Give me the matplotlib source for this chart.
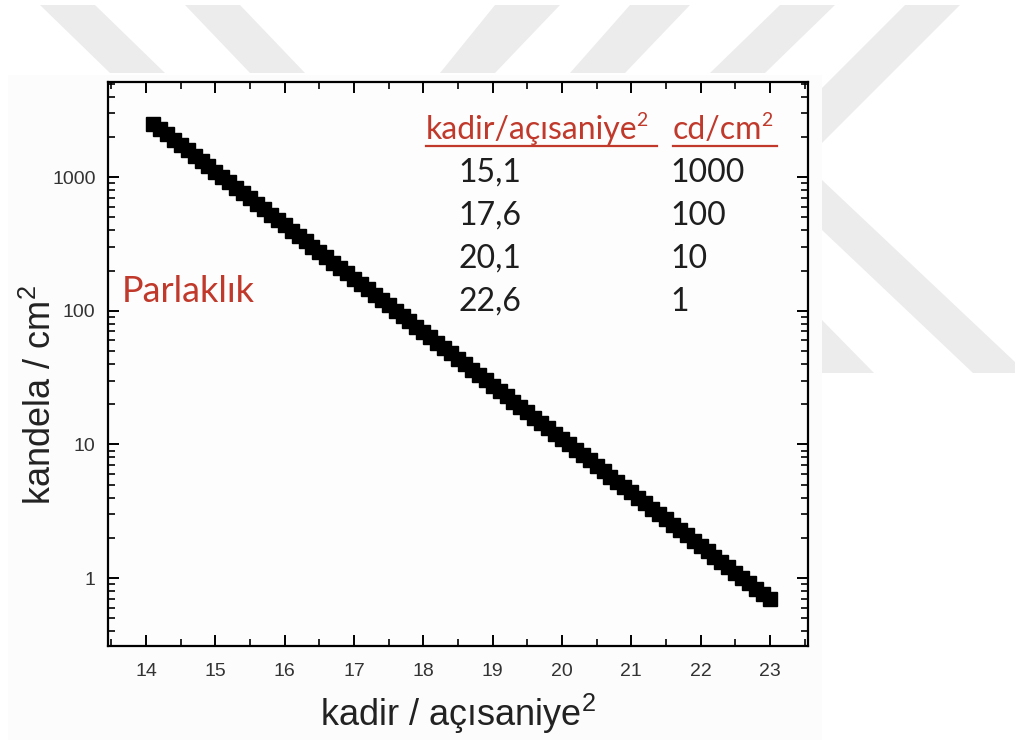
import matplotlib
matplotlib.use("Agg")
import matplotlib.pyplot as plt
from matplotlib.patches import Polygon, Rectangle
from matplotlib.lines import Line2D
from matplotlib.ticker import MultipleLocator, LogLocator, FuncFormatter, NullFormatter

# ---- data ----
kadir = [14.1, 14.2, 14.3, 14.4, 14.5, 14.6, 14.7, 14.8, 14.9, 15.0,
         15.1, 15.2, 15.3, 15.4, 15.5, 15.6, 15.7, 15.8, 15.9, 16.0,
         16.1, 16.2, 16.3, 16.4, 16.5, 16.6, 16.7, 16.8, 16.9, 17.0,
         17.1, 17.2, 17.3, 17.4, 17.5, 17.6, 17.7, 17.8, 17.9, 18.0,
         18.1, 18.2, 18.3, 18.4, 18.5, 18.6, 18.7, 18.8, 18.9, 19.0,
         19.1, 19.2, 19.3, 19.4, 19.5, 19.6, 19.7, 19.8, 19.9, 20.0,
         20.1, 20.2, 20.3, 20.4, 20.5, 20.6, 20.7, 20.8, 20.9, 21.0,
         21.1, 21.2, 21.3, 21.4, 21.5, 21.6, 21.7, 21.8, 21.9, 22.0,
         22.1, 22.2, 22.3, 22.4, 22.5, 22.6, 22.7, 22.8, 22.9, 23.0]
kandela = [2512, 2291, 2089, 1905, 1738, 1585, 1445, 1318, 1202, 1096,
           1000, 912, 832, 759, 692, 631, 575, 525, 479, 437,
           398, 363, 331, 302, 275, 251, 229, 209, 191, 174,
           158.5, 144.5, 131.8, 120.2, 109.6, 100, 91.2, 83.2, 75.9, 69.2,
           63.1, 57.5, 52.5, 47.9, 43.7, 39.8, 36.3, 33.1, 30.2, 27.5,
           25.1, 22.9, 20.9, 19.05, 17.4, 15.85, 14.45, 13.18, 12.02, 10.96,
           10.0, 9.12, 8.32, 7.59, 6.92, 6.31, 5.75, 5.25, 4.79, 4.37,
           3.98, 3.63, 3.31, 3.02, 2.75, 2.51, 2.29, 2.09, 1.905, 1.74,
           1.585, 1.445, 1.318, 1.202, 1.096, 1.0, 0.912, 0.832, 0.759, 0.692]

table_header = ["kadir/açısaniye", "cd/cm"]
table_col1 = ["15,1", "17,6", "20,1", "22,6"]
table_col2 = ["1000", "100", "10", "1"]
x_ticks = [14, 15, 16, 17, 18, 19, 20, 21, 22, 23]
y_ticks = [1, 10, 100, 1000]

# ---- style ----
plt.rcParams['font.family'] = ['Liberation Sans', 'DejaVu Sans']
plt.rcParams['mathtext.fontset'] = 'custom'
plt.rcParams['mathtext.rm'] = 'Liberation Sans'
plt.rcParams['mathtext.it'] = 'Liberation Sans'

W, H = 1015, 740
fig = plt.figure(figsize=(W / 100, H / 100), dpi=100, facecolor='white')

def fx(x):
    return x / W

def fy(y):
    return 1 - y / H

# watermark stripes (behind the embedded picture)
wm = '#ececec'
stripes = [
    [(40, 5), (95, 5), (165, 73), (110, 73)],
    [(185, 5), (240, 5), (305, 73), (250, 73)],
    [(495, 5), (560, 5), (495, 73), (440, 73)],
    [(630, 5), (690, 5), (625, 73), (570, 73)],
    [(780, 5), (835, 5), (765, 73), (710, 73)],
    [(905, 5), (960, 5), (822, 143), (822, 88)],
    [(822, 180), (1015, 362), (1015, 373), (973, 373), (822, 230)],
    [(822, 320), (874, 373), (822, 373)],
]
for s in stripes:
    fig.add_artist(Polygon([(fx(a), fy(b)) for a, b in s], closed=True,
                           transform=fig.transFigure, facecolor=wm,
                           edgecolor='none', zorder=-3))
fig.add_artist(Rectangle((fx(8), fy(740)), fx(822) - fx(8), fy(75) - fy(740),
                         transform=fig.transFigure, facecolor='#fcfcfc',
                         edgecolor='none', zorder=-2))

L, R, T, B = 108, 808, 82, 646
ax = fig.add_axes([fx(L), fy(B), fx(R) - fx(L), fy(T) - fy(B)])
ax.set_facecolor('#fdfdfd')

ax.plot(kadir, kandela, linestyle='none', marker='s', markersize=10.5,
        color='black', markeredgecolor='black')

ax.set_yscale('log')
ax.set_xlim(13.45, 23.55)
ax.set_ylim(0.31, 5150)

ax.set_xticks(x_ticks)
ax.xaxis.set_minor_locator(MultipleLocator(0.5))
ax.set_yticks(y_ticks)
ax.yaxis.set_major_formatter(FuncFormatter(lambda v, _: f"{v:g}"))
ax.yaxis.set_minor_locator(LogLocator(base=10, subs=range(2, 10), numticks=20))
ax.yaxis.set_minor_formatter(NullFormatter())

for sp in ax.spines.values():
    sp.set_linewidth(1.6)
    sp.set_color('black')

ax.tick_params(which='both', direction='in', top=True, right=True,
               colors='black', labelcolor='#333333')
ax.tick_params(which='major', length=8, width=1.4, labelsize=14)
ax.tick_params(axis='x', which='major', pad=12)
ax.tick_params(axis='y', which='major', pad=9)
ax.tick_params(which='minor', length=5, width=1.2)

ax.set_xlabel(r"kadir / açısaniye$^{2}$", fontsize=26, color='#222222')
ax.set_ylabel(r"kandela / cm$^{2}$", fontsize=26, color='#222222')
ax.xaxis.set_label_coords(0.5, -0.082)
ax.yaxis.set_label_coords(-0.07, 0.445)

red = '#c0392b'
dark = '#1e1e1e'
tf = ['Lato', 'DejaVu Sans']
tsize = 23

fig.text(fx(122), fy(292), "Parlaklık", fontsize=26, color=red, family=tf,
         ha='left', va='center')

renderer = fig.canvas.get_renderer()
for x0, label in zip([426, 673], table_header):
    t = fig.text(fx(x0), fy(130), label, fontsize=tsize, color=red, family=tf,
                 ha='left', va='center')
    bb = t.get_window_extent(renderer=renderer)
    fig.text(bb.x1 / W - fx(1), fy(121), "2", fontsize=14, color=red,
             family=tf, ha='left', va='center')

fig.add_artist(Line2D([fx(426), fx(657)], [fy(146), fy(146)],
                      transform=fig.transFigure, color=red, linewidth=1.6))
fig.add_artist(Line2D([fx(673), fx(777)], [fy(146), fy(146)],
                      transform=fig.transFigure, color=red, linewidth=1.6))

row_y = [173, 216, 259, 302]
for yy, a, b in zip(row_y, table_col1, table_col2):
    fig.text(fx(458), fy(yy), a, fontsize=tsize, color=dark, family=tf,
             ha='left', va='center')
    fig.text(fx(670), fy(yy), b, fontsize=tsize, color=dark, family=tf,
             ha='left', va='center')

fig.savefig("out.png", dpi=100, facecolor='white')
